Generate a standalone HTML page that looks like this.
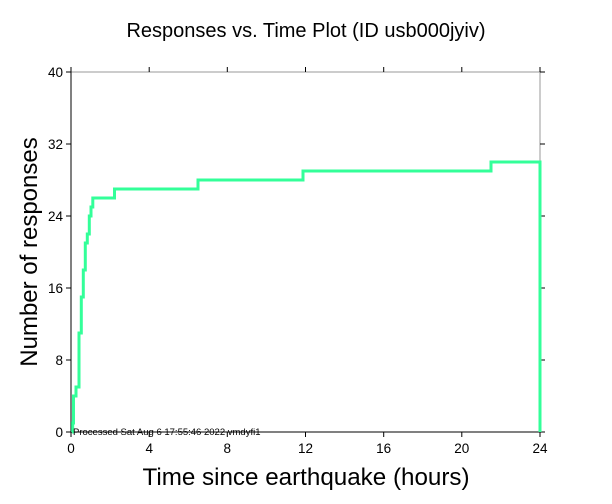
<!DOCTYPE html>
<html><head><style>body{margin:0;background:#fff}svg{display:block}</style></head><body>
<svg width="612" height="504" xmlns="http://www.w3.org/2000/svg" font-family="Liberation Sans, sans-serif">
<rect width="612" height="504" fill="#fff"/>
<text x="306" y="37" font-size="20" text-anchor="middle">Responses vs. Time Plot (ID usb000jyiv)</text>
<rect x="71" y="72" width="469" height="360" fill="none" stroke="#999" stroke-width="1"/>
<line x1="71" y1="72" x2="71" y2="432" stroke="#000"/>
<line x1="71" y1="432" x2="540" y2="432" stroke="#000"/>
<g stroke="#000" stroke-width="1">
<line x1="71" y1="432" x2="71" y2="437"/><line x1="149.2" y1="432" x2="149.2" y2="437"/><line x1="227.3" y1="432" x2="227.3" y2="437"/><line x1="305.5" y1="432" x2="305.5" y2="437"/><line x1="383.7" y1="432" x2="383.7" y2="437"/><line x1="461.8" y1="432" x2="461.8" y2="437"/><line x1="540" y1="432" x2="540" y2="437"/>
<line x1="71" y1="72" x2="71" y2="67"/><line x1="149.2" y1="72" x2="149.2" y2="67"/><line x1="227.3" y1="72" x2="227.3" y2="67"/><line x1="305.5" y1="72" x2="305.5" y2="67"/><line x1="383.7" y1="72" x2="383.7" y2="67"/><line x1="461.8" y1="72" x2="461.8" y2="67"/><line x1="540" y1="72" x2="540" y2="67"/>
<line x1="66" y1="432" x2="71" y2="432"/><line x1="66" y1="360" x2="71" y2="360"/><line x1="66" y1="288" x2="71" y2="288"/><line x1="66" y1="216" x2="71" y2="216"/><line x1="66" y1="144" x2="71" y2="144"/><line x1="66" y1="72" x2="71" y2="72"/>
<line x1="540" y1="432" x2="545" y2="432"/><line x1="540" y1="360" x2="545" y2="360"/><line x1="540" y1="288" x2="545" y2="288"/><line x1="540" y1="216" x2="545" y2="216"/><line x1="540" y1="144" x2="545" y2="144"/><line x1="540" y1="72" x2="545" y2="72"/>
</g>
<g font-size="13.5" text-anchor="end">
<text x="63" y="437">0</text><text x="63" y="365">8</text><text x="63" y="293">16</text><text x="63" y="221">24</text><text x="63" y="149">32</text><text x="63" y="77">40</text>
</g>
<g font-size="13.5" text-anchor="middle">
<text x="71" y="453">0</text><text x="149.2" y="453">4</text><text x="227.3" y="453">8</text><text x="305.5" y="453">12</text><text x="383.7" y="453">16</text><text x="461.8" y="453">20</text><text x="540" y="453">24</text>
</g>
<text x="306" y="485" font-size="24.2" text-anchor="middle">Time since earthquake (hours)</text>
<text transform="translate(37,252) rotate(-90)" font-size="24" text-anchor="middle">Number of responses</text>
<polyline fill="none" stroke="#33ff99" stroke-width="3" points="72,432 72.7,432 72.7,423 73.5,423 73.5,396 76,396 76,387 79,387 79,333 81.3,333 81.3,297 83.3,297 83.3,270 85.3,270 85.3,243 87.3,243 87.3,234 89.3,234 89.3,216 91,216 91,207 92.8,207 92.8,198 114.5,198 114.5,189 198,189 198,180 303,180 303,171 491,171 491,162 540,162 540,432"/>
<text x="73" y="435" font-size="9.5">Processed Sat Aug  6 17:55:46 2022 vmdyfi1</text>
</svg>
</body></html>
